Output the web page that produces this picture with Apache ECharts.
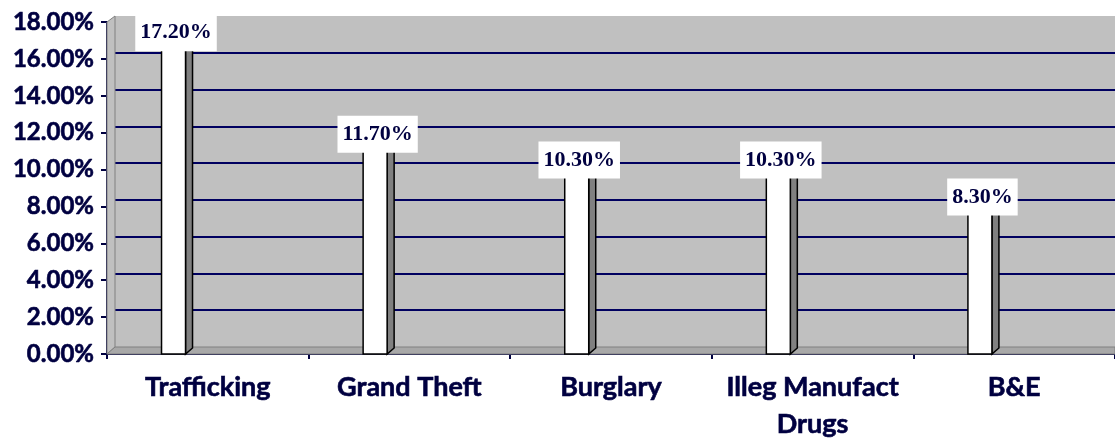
<!DOCTYPE html>
<html>
<head>
<meta charset="utf-8">
<script src="https://cdn.jsdelivr.net/npm/echarts@6/dist/echarts.min.js"></script>
<style>
html,body{margin:0;padding:0;background:#fff;}
#main{width:1115px;height:439px;}
</style>
</head>
<body>
<div id="main"></div>
<script>
var categories = ['Trafficking', 'Grand Theft', 'Burglary', 'Illeg Manufact\nDrugs', 'B&E'];
var rates = [17.2, 11.7, 10.3, 10.3, 8.3];
var yTicks = [0, 2, 4, 6, 8, 10, 12, 14, 16, 18];

var navy = '#000040';
var chart = echarts.init(document.getElementById('main'));

var option = {
	backgroundColor: '#fff',
	animation: false,
	grid: [
		// front plane (axes, bars)
		{left: 107, right: 0, top: 22, bottom: 85, outerBoundsMode: 'none', containLabel: false},
		// back wall
		{left: 115, right: 0, top: 16, bottom: 92, outerBoundsMode: 'none', containLabel: false,
			show: true, backgroundColor: '#c0c0c0', borderWidth: 0}
	],
	xAxis: [
		{
			type: 'category', gridIndex: 0, data: categories,
			axisLine: {lineStyle: {color: navy, width: 2}},
			axisTick: {show: true, length: 5, lineStyle: {color: navy, width: 2}},
			axisLabel: {
				margin: 15, color: navy, fontFamily: 'Lato', fontWeight: 'bold', fontSize: 27,
				lineHeight: 37, interval: 0, textBorderColor: navy, textBorderWidth: 0.6
			}
		},
		{type: 'category', gridIndex: 1, data: categories, show: false}
	],
	yAxis: [
		{
			type: 'value', gridIndex: 0, min: yTicks[0], max: yTicks[yTicks.length - 1], interval: 2,
			axisLine: {show: true, lineStyle: {color: navy, width: 2}},
			axisTick: {show: true, length: 6, lineStyle: {color: navy, width: 2}},
			splitLine: {show: false},
			axisLabel: {
				margin: 13, color: navy, fontFamily: 'Lato', fontWeight: 'bold', fontSize: 24,
				textBorderColor: navy, textBorderWidth: 0.6,
				formatter: function (v) { return v.toFixed(2) + '%'; }
			}
		},
		{
			type: 'value', gridIndex: 1, min: yTicks[0], max: yTicks[yTicks.length - 1], interval: 2,
			axisLine: {show: false}, axisTick: {show: false}, axisLabel: {show: false},
			splitLine: {show: true, showMinLine: false, showMaxLine: false, lineStyle: {color: '#000060', width: 2}}
		}
	],
	graphic: [
		// side wall and floor of the 3D box
		{type: 'polygon', z: 1, shape: {points: [[107, 22], [115, 16], [115, 347], [107, 354]]},
			style: {fill: '#c0c0c0', stroke: '#808080', lineWidth: 1}},
		{type: 'polygon', z: 1, shape: {points: [[107, 354], [115, 347], [1115, 347], [1115, 354]]},
			style: {fill: '#a8a8a8', stroke: '#808080', lineWidth: 1}}
	],
	series: [{
		type: 'custom',
		xAxisIndex: 0, yAxisIndex: 0,
		z: 3,
		data: rates.map(function (v, i) { return [i, v]; }),
		renderItem: function (params, api) {
			var top = api.coord([api.value(0), api.value(1)]);
			var base = api.coord([api.value(0), 0]);
			var cw = api.size([1, 0])[0];
			var cx = top[0] - cw * 0.17;
			var w = 24, dx = 7, dy = 6;
			var x1 = cx - w / 2, x2 = cx + w / 2;
			return {
				type: 'group',
				children: [
					{type: 'polygon', shape: {points: [[x2, top[1]], [x2 + dx, top[1] - dy], [x2 + dx, base[1] - dy], [x2, base[1]]]},
						style: {fill: '#808080', stroke: '#000', lineWidth: 1.5}},
					{type: 'polygon', shape: {points: [[x1, top[1]], [x1 + dx, top[1] - dy], [x2 + dx, top[1] - dy], [x2, top[1]]]},
						style: {fill: '#e0e0e0', stroke: '#000', lineWidth: 1.5}},
					{type: 'rect', shape: {x: x1, y: top[1], width: w, height: base[1] - top[1]},
						style: {fill: '#fff', stroke: '#000', lineWidth: 1.5}},
					{type: 'text', z2: 10, style: {
						text: api.value(1).toFixed(2) + '%', x: cx + 2.5, y: top[1] - 4,
						align: 'center', verticalAlign: 'middle',
						font: 'bold 22px "Liberation Serif"', fill: navy,
						backgroundColor: '#fff', padding: [8, 5, 7, 5]
					}}
				]
			};
		}
	}]
};
chart.setOption(option);
</script>
</body>
</html>
